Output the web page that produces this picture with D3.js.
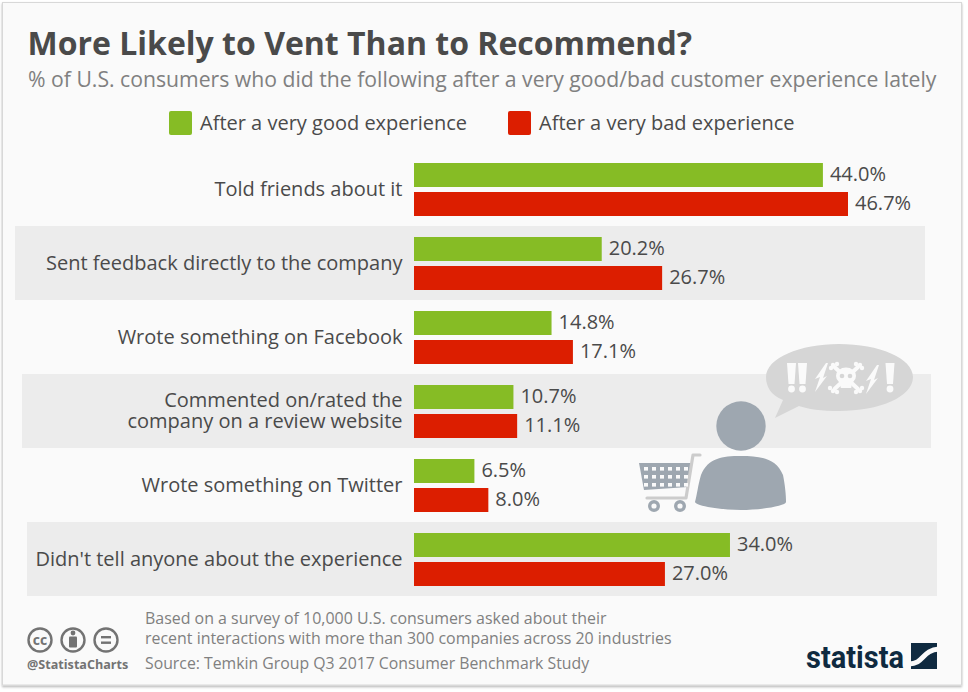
<!DOCTYPE html>
<html><head><meta charset="utf-8">
<script src="https://cdn.jsdelivr.net/npm/d3@7/dist/d3.min.js"></script>
<style>html,body{margin:0;padding:0;background:#fff}svg{display:block}text{font-family:"Open Sans",sans-serif}</style>
</head><body><svg id="c" width="968" height="692"></svg>
<script>
const categories=[["Told friends about it"],["Sent feedback directly to the company"],["Wrote something on Facebook"],["Commented on/rated the","company on a review website"],["Wrote something on Twitter"],["Didn't tell anyone about the experience"]];
const goodValues=[44.0,20.2,14.8,10.7,6.5,34.0];
const badValues=[46.7,26.7,17.1,11.1,8.0,27.0];
const seriesNames=["After a very good experience","After a very bad experience"];
const title="More Likely to Vent Than to Recommend?";
const subtitle="% of U.S. consumers who did the following after a very good/bad customer experience lately";
const noteLines=["Based on a survey of 10,000 U.S. consumers asked about their","recent interactions with more than 300 companies across 20 industries"];
const source="Source: Temkin Group Q3 2017 Consumer Benchmark Study";
const GREEN="#86bc25",RED="#dc1e00",INK="#4a4a4a",PAPER="#fafafa";
const svg=d3.select("#c");
const defs=svg.append("defs");
const f=defs.append("filter").attr("id","sh").attr("x","-2%").attr("y","-2%").attr("width","104%").attr("height","104%");
f.append("feDropShadow").attr("dx",0).attr("dy",1.5).attr("stdDeviation",1.2).attr("flood-color","#000").attr("flood-opacity",0.3);
svg.append("rect").attr("x",2.5).attr("y",2.5).attr("width",959).attr("height",682.5).attr("fill",PAPER).attr("stroke","#d8d8d8").attr("stroke-width",1).attr("filter","url(#sh)");
svg.append("text").attr("x",27.5).attr("y",55).attr("font-size",32).attr("font-weight",700).attr("fill",INK).text(title);
svg.append("text").attr("x",28).attr("y",86.5).attr("font-size",21.2).attr("fill","#808080").text(subtitle);
[[169,200,GREEN],[508,539,RED]].forEach((d,i)=>{
 svg.append("rect").attr("x",d[0]).attr("y",111).attr("width",23).attr("height",24).attr("rx",2).attr("fill",d[2]);
 svg.append("text").attr("x",d[1]).attr("y",129.5).attr("font-size",20).attr("fill",INK).text(seriesNames[i]);
});
const x=d3.scaleLinear().domain([0,46.7]).range([414,848]);
const y=d3.scaleBand().domain(d3.range(categories.length)).range([152,596]);
const bandX=[null,15,null,22,null,27];
categories.forEach((c,i)=>{
 if(bandX[i]!==null) svg.append("rect").attr("x",bandX[i]).attr("y",y(i)).attr("width",i===3?909:910).attr("height",y.bandwidth()).attr("fill","#ececec");
});
const g=svg.append("g");
[[goodValues,GREEN,11],[badValues,RED,40]].forEach(([vals,col,off])=>{
 g.selectAll(null).data(vals).join("rect").attr("x",x(0)).attr("y",(d,i)=>y(i)+off).attr("width",d=>x(d)-x(0)).attr("height",24).attr("fill",col);
 g.selectAll(null).data(vals).join("text").attr("x",d=>x(d)+7).attr("y",(d,i)=>y(i)+off+18).attr("font-size",20).attr("fill",INK).text(d=>d.toFixed(1)+"%");
});
categories.forEach((c,i)=>{
 const mid=y(i)+37;
 c.forEach((l,k)=>{
  svg.append("text").attr("x",402.5).attr("y",mid+6.5+(k-(c.length-1)/2)*21.5).attr("text-anchor","end").attr("font-size",20).attr("fill",INK).text(l);
 });
});
// illustration
const ill=svg.append("g");
const GREY="#9ea7b0",BUB="#d6d6d6";
ill.append("path").attr("fill",BUB).attr("d","M839 344C879 344 913 358 913 377C913 397 879 411 839 411C822 411 807 409 799 406L775 418L783 400C771 395 766 387 766 377C766 358 800 344 839 344Z");
[791.5,802.5,890].forEach(cx=>{
 ill.append("path").attr("fill",PAPER).attr("d",`M${cx-4.5} 363L${cx+4.5} 363L${cx+3} 384L${cx-3} 384Z`);
 ill.append("circle").attr("cx",cx).attr("cy",389).attr("r",3.4).attr("fill",PAPER);
});
["M828 363L815 392L820 377L815 379L826 363Z M828 363L823 378L827 376L815 392L820 379Z","M879 365L866 394L871 379L866 381L877 365Z M879 365L874 380L878 378L866 394L871 381Z"].forEach(p=>ill.append("path").attr("fill",PAPER).attr("d",p));
ill.append("path").attr("d","M834.5 367L858 389M858 367L834.5 389").attr("stroke",PAPER).attr("stroke-width",4).attr("stroke-linecap","round");
[[833,365],[837,364],[831,368],[860,365],[856,364],[862,368],[833,391],[830,388],[837,392],[860,391],[862,388],[856,392]].forEach(p=>ill.append("circle").attr("cx",p[0]).attr("cy",p[1]).attr("r",2.2).attr("fill",PAPER));
ill.append("ellipse").attr("cx",846).attr("cy",376).attr("rx",10).attr("ry",8.5).attr("fill",PAPER);
ill.append("rect").attr("x",840.5).attr("y",381).attr("width",11).attr("height",7).attr("rx",1).attr("fill",PAPER);
ill.append("circle").attr("cx",842).attr("cy",376).attr("r",2.3).attr("fill",BUB);
ill.append("circle").attr("cx",850).attr("cy",376).attr("r",2.3).attr("fill",BUB);
ill.append("circle").attr("cx",741).attr("cy",426).attr("r",24.7).attr("fill",GREY);
ill.append("path").attr("fill",GREY).attr("d","M741 456C760 456 776 458 783 475C785 485 786 495 786 502C786 506 760 510 741 510C722 510 696 506 695 502C697 495 698 485 701 475C708 458 722 456 741 456Z");
ill.append("path").attr("fill",GREY).attr("d","M639 463L691 463L688 487L644 490Z");
ill.append("path").attr("fill","none").attr("stroke","#cccccc").attr("stroke-width",3.2).attr("stroke-linecap","round").attr("stroke-linejoin","round").attr("d","M700 455L693 455L686 498L647 498");
for(let r=0;r<3;r++)for(let k=0;k<6;k++)ill.append("rect").attr("x",644+k*8).attr("y",467+r*8).attr("width",4).attr("height",3.6).attr("fill",PAPER);
[654,680].forEach(cx=>{ill.append("circle").attr("cx",cx).attr("cy",506).attr("r",4.3).attr("fill","none").attr("stroke",GREY).attr("stroke-width",3.4);});
[40,73,106].forEach(cx=>svg.append("circle").attr("cx",cx).attr("cy",640).attr("r",11.5).attr("fill","none").attr("stroke","#737373").attr("stroke-width",2.4));
svg.append("text").attr("x",40).attr("y",645).attr("text-anchor","middle").attr("font-size",14).attr("font-weight",700).attr("fill","#737373").text("cc");
svg.append("circle").attr("cx",73).attr("cy",633).attr("r",2.4).attr("fill","#737373");
svg.append("rect").attr("x",69).attr("y",636.5).attr("width",8).attr("height",11).attr("rx",1).attr("fill","#737373");
svg.append("rect").attr("x",101).attr("y",636).attr("width",10).attr("height",2.4).attr("fill","#737373");
svg.append("rect").attr("x",101).attr("y",641.5).attr("width",10).attr("height",2.4).attr("fill","#737373");
svg.append("text").attr("x",27).attr("y",669).attr("font-size",12.6).attr("font-weight",700).attr("fill","#737373").text("@StatistaCharts");
noteLines.forEach((l,i)=>svg.append("text").attr("x",145).attr("y",624+i*19.5).attr("font-size",15.95).attr("fill","#808080").text(l));
svg.append("text").attr("x",145).attr("y",669).attr("font-size",15.8).attr("fill","#808080").text(source);
svg.append("text").attr("x",806).attr("y",668).attr("font-size",31).attr("font-weight",700).attr("fill","#0f2a40").style("font-family","Roboto").attr("textLength",98).attr("lengthAdjust","spacingAndGlyphs").text("statista");
svg.append("rect").attr("x",911).attr("y",643).attr("width",26).attr("height",26).attr("fill","#0f2a40");
svg.append("path").attr("fill","none").attr("stroke",PAPER).attr("stroke-width",5).attr("d","M909 664C924 664 922 650 939 649");
</script></body></html>
